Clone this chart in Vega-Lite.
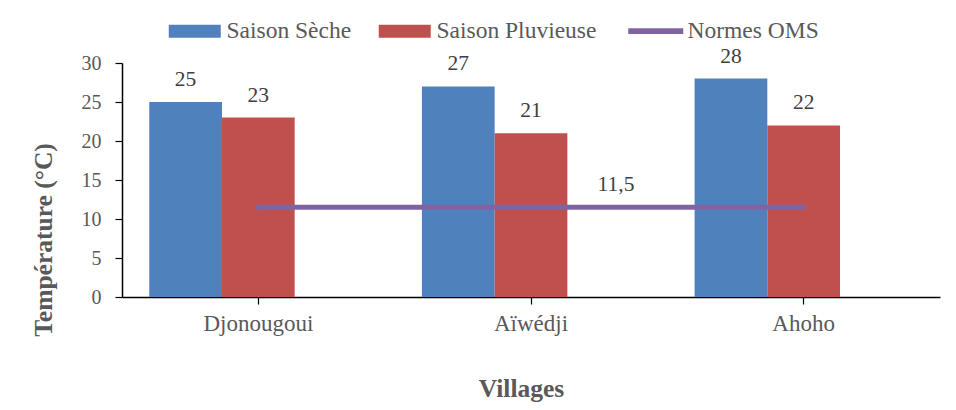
{
  "$schema": "https://vega.github.io/schema/vega-lite/v6.json",
  "width": 818,
  "height": 234,
  "autosize": {"type": "none"},
  "padding": {"left": 122, "top": 63, "right": 16, "bottom": 113},
  "background": "white",
  "config": {
    "view": {"stroke": null},
    "font": "Times New Roman",
    "text": {"font": "Times New Roman"},
    "axis": {"labelFont": "Times New Roman", "titleFont": "Times New Roman", "labelColor": "#595959", "domainColor": "#000000", "tickColor": "#000000", "tickSize": 7, "domainWidth": 1.5, "tickWidth": 1.2, "grid": false},
    "axisX": {"labelFontSize": 23, "labelPadding": 8, "labelAngle": 0},
    "axisY": {"labelFontSize": 20, "labelPadding": 14},
    "legend": {"labelFont": "Times New Roman"},
    "locale": {"number": {"decimal": ",", "thousands": " ", "grouping": [3], "currency": ["", " €"]}}
  },
  "datasets": {
    "bars": [
      {"village": "Djonougoui", "saison": "Saison Sèche", "temp": 25},
      {"village": "Djonougoui", "saison": "Saison Pluvieuse", "temp": 23},
      {"village": "Aïwédji", "saison": "Saison Sèche", "temp": 27},
      {"village": "Aïwédji", "saison": "Saison Pluvieuse", "temp": 21},
      {"village": "Ahoho", "saison": "Saison Sèche", "temp": 28},
      {"village": "Ahoho", "saison": "Saison Pluvieuse", "temp": 22}
    ],
    "norme": [
      {"village": "Djonougoui", "saison": "Normes OMS", "temp": 11.5},
      {"village": "Aïwédji", "saison": "Normes OMS", "temp": 11.5},
      {"village": "Ahoho", "saison": "Normes OMS", "temp": 11.5}
    ]
  },
  "encoding": {
    "x": {
      "field": "village", "type": "nominal", "sort": ["Djonougoui", "Aïwédji", "Ahoho"],
      "scale": {"paddingInner": 0, "paddingOuter": 0},
      "axis": {
        "title": "Villages", "titleFontSize": 25.5, "titleFontWeight": "bold",
        "titleColor": "#595959", "titleX": 399, "titleY": 91, "titleBaseline": "middle", "titleAnchor": null
      }
    },
    "y": {
      "field": "temp", "type": "quantitative",
      "scale": {"domain": [0, 30], "nice": false},
      "axis": {
        "title": "Température (°C)", "titleFontSize": 25.5, "titleFontWeight": "bold",
        "titleColor": "#595959", "titleX": -79, "titleY": 176.5, "titleBaseline": "middle", "titleAnchor": null, "titleAngle": 270,
        "values": [0, 5, 10, 15, 20, 25, 30]
      }
    }
  },
  "layer": [
    {
      "data": {"name": "bars"},
      "mark": {"type": "bar"},
      "encoding": {
        "xOffset": {
          "field": "saison", "type": "nominal",
          "scale": {"domain": ["Saison Sèche", "Saison Pluvieuse", "vide"], "paddingInner": 0, "paddingOuter": 0.375}
        },
        "color": {
          "field": "saison", "type": "nominal",
          "scale": {"domain": ["Saison Sèche", "Saison Pluvieuse", "Normes OMS"], "range": ["#4F81BD", "#C0504D", "#8064A2"]},
          "legend": {
            "title": null, "orient": "none", "direction": "horizontal", "legendX": 61, "legendY": -44,
            "labelFontSize": 23.5, "labelColor": "#595959", "labelOffset": 20,
            "columnPadding": 26, "symbolSize": 2704, "symbolStrokeWidth": 0,
            "symbolType": "M-1,-0.25H1V0.25H-1Z",
            "encode": {
              "symbols": {
                "update": {
                  "shape": {"signal": "datum.value === 'Normes OMS' ? 'M-1,-0.05H1V0.05H-1Z' : 'M-1,-0.25H1V0.25H-1Z'"},
                  "fill": {"scale": "color", "field": "value"},
                  "stroke": {"scale": "color", "field": "value"},
                  "strokeWidth": {"signal": "datum.value === 'Normes OMS' ? 3 : 0"},
                  "strokeCap": {"value": "round"},
                  "opacity": {"value": 1},
                  "fillOpacity": {"value": 1}
                }
              }
            }
          }
        }
      }
    },
    {
      "data": {"name": "bars"},
      "mark": {"type": "text", "baseline": "alphabetic", "dy": -16, "fontSize": 21.5, "color": "#404040"},
      "encoding": {
        "xOffset": {"field": "saison", "type": "nominal"},
        "text": {"field": "temp", "type": "quantitative"}
      }
    },
    {
      "data": {"name": "norme"},
      "mark": {"type": "line", "strokeWidth": 5, "strokeCap": "round"},
      "encoding": {
        "color": {"field": "saison", "type": "nominal"}
      }
    },
    {
      "data": {"name": "norme"},
      "transform": [{"filter": "datum.village === 'Aïwédji'"}],
      "mark": {"type": "text", "baseline": "alphabetic", "dy": -16, "dx": 85, "fontSize": 21.5, "color": "#404040"},
      "encoding": {
        "text": {"field": "temp", "type": "quantitative", "format": ".1f"}
      }
    }
  ]
}
